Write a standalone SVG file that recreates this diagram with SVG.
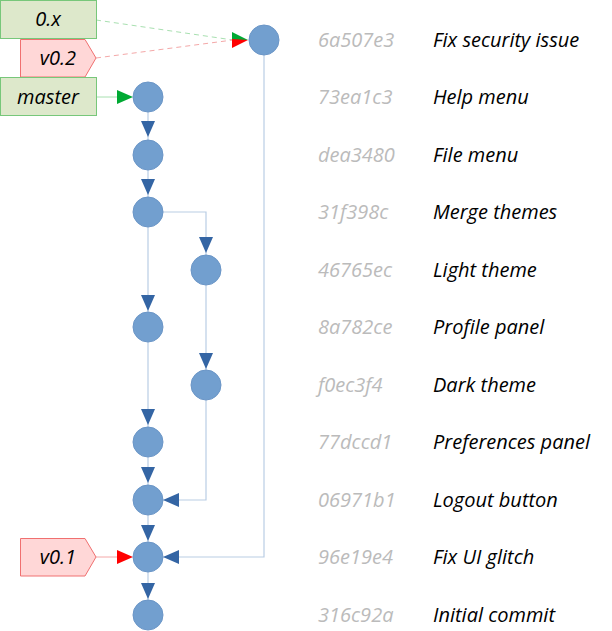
<svg xmlns="http://www.w3.org/2000/svg" width="612" height="631" viewBox="0 0 612 631">
<style>
.n{fill:#729fcf;stroke:#6b96c7;stroke-width:1}
.e{fill:none;stroke:#b9cde4;stroke-width:1.2}
.a{fill:#3465a4}
.t{font-family:"Open Sans","DejaVu Sans",sans-serif;font-style:italic;font-size:20px}
.h{fill:#bbbbbb}
.m{fill:#000}
.g{fill:#dde8cb;stroke:#77c77a}
.r{fill:#ffd7d7;stroke:#f07070}
</style>
<rect width="612" height="631" fill="#fff"/>
<g id="connectors">
<path class="e" d="M148 112V140M148 170V197M148 227V312M163 212H206V255M206 285V370M148 342V427M148 457V485M206 400V500H163M148 515V542M264 55V557H163M148 572V600"/>
<path class="a" d="M141 121h14l-7 16zM141 179h14l-7 16zM141 295h14l-7 16zM199 237h14l-7 16zM141 409h14l-7 16zM199 353h14l-7 16zM141 467h14l-7 16zM141 525h14l-7 16zM141 583h14l-7 16zM163 500l16-7v14zM163 557l16-7v14z"/>
<path d="M96 20L233 40" stroke="#a8e0b0" stroke-dasharray="5,4" fill="none"/>
<path d="M96 58L233 40" stroke="#f4a8a8" stroke-dasharray="5,4" fill="none"/>
<path d="M96 97H120" stroke="#a8e0b0" fill="none"/>
<path d="M96 557H120" stroke="#f4a8a8" fill="none"/>
<path fill="#00a933" d="M248 40l-16-8v8zM133 97l-16-7v14z"/>
<path fill="#ff0000" d="M248 40l-16-1v9zM133 557l-16-7v14z"/>
</g>
<g id="label-0x"><rect class="g" x="0.5" y="0.5" width="96" height="38"/><text class="t m" x="48" y="26" text-anchor="middle">0.x</text></g>
<g id="label-v02"><path class="r" d="M20.5 39.5H85L96 58L85 77H20.5Z"/><text class="t m" x="58" y="65" text-anchor="middle">v0.2</text></g>
<g id="label-master"><rect class="g" x="0.5" y="77.5" width="96" height="38"/><text class="t m" x="48" y="104" text-anchor="middle">master</text></g>
<g id="label-v01"><path class="r" d="M20.5 538.5H85L96 557L85 576H20.5Z"/><text class="t m" x="58" y="564" text-anchor="middle">v0.1</text></g>
<g id="c1"><circle class="n" cx="264" cy="40" r="15"/><text class="t h" x="318" y="47">6a507e3</text><text class="t m" x="433" y="47">Fix security issue</text></g>
<g id="c2"><circle class="n" cx="148" cy="97" r="15"/><text class="t h" x="318" y="104">73ea1c3</text><text class="t m" x="433" y="104">Help menu</text></g>
<g id="c3"><circle class="n" cx="148" cy="155" r="15"/><text class="t h" x="318" y="162">dea3480</text><text class="t m" x="433" y="162">File menu</text></g>
<g id="c4"><circle class="n" cx="148" cy="212" r="15"/><text class="t h" x="318" y="219">31f398c</text><text class="t m" x="433" y="219">Merge themes</text></g>
<g id="c5"><circle class="n" cx="206" cy="270" r="15"/><text class="t h" x="318" y="277">46765ec</text><text class="t m" x="433" y="277">Light theme</text></g>
<g id="c6"><circle class="n" cx="148" cy="327" r="15"/><text class="t h" x="318" y="334">8a782ce</text><text class="t m" x="433" y="334">Profile panel</text></g>
<g id="c7"><circle class="n" cx="206" cy="385" r="15"/><text class="t h" x="318" y="392">f0ec3f4</text><text class="t m" x="433" y="392">Dark theme</text></g>
<g id="c8"><circle class="n" cx="148" cy="442" r="15"/><text class="t h" x="318" y="449">77dccd1</text><text class="t m" x="433" y="449">Preferences panel</text></g>
<g id="c9"><circle class="n" cx="148" cy="500" r="15"/><text class="t h" x="318" y="507">06971b1</text><text class="t m" x="433" y="507">Logout button</text></g>
<g id="c10"><circle class="n" cx="148" cy="557" r="15"/><text class="t h" x="318" y="564">96e19e4</text><text class="t m" x="433" y="564">Fix UI glitch</text></g>
<g id="c11"><circle class="n" cx="148" cy="615" r="15"/><text class="t h" x="318" y="622">316c92a</text><text class="t m" x="433" y="622">Initial commit</text></g>
</svg>
